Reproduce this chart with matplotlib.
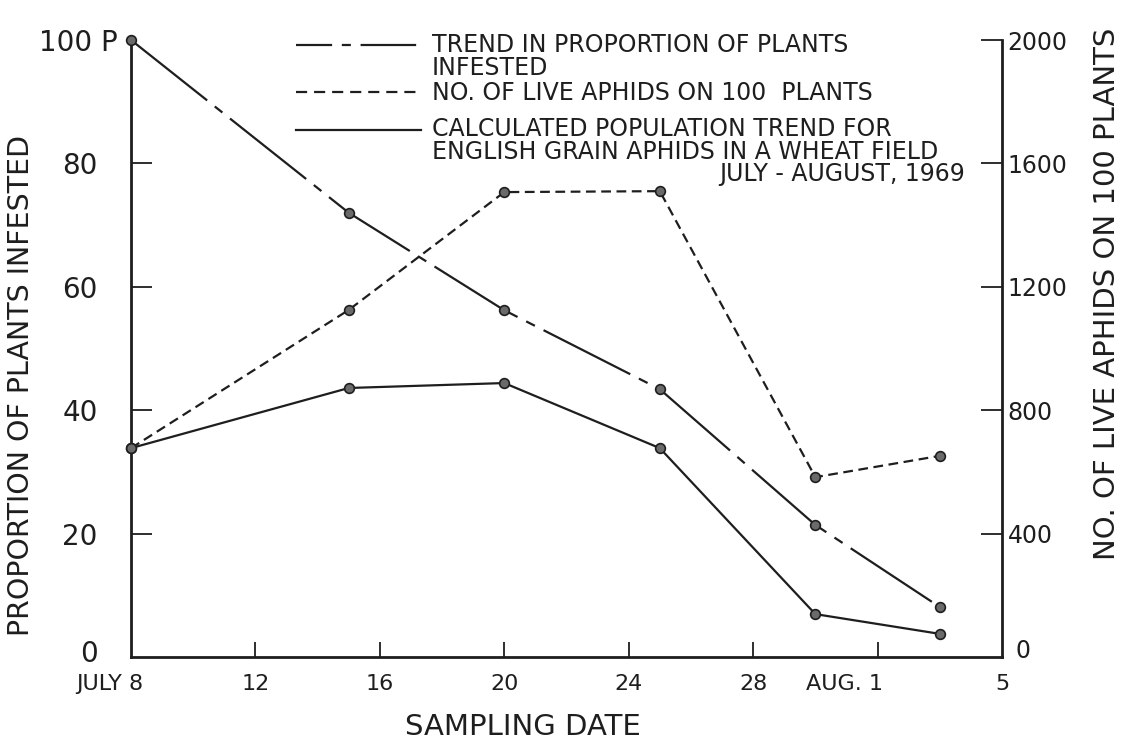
import matplotlib
matplotlib.use("Agg")
import matplotlib.pyplot as plt
from matplotlib.lines import Line2D
from matplotlib.transforms import ScaledTranslation

plt.rcParams['font.family'] = ['DejaVu Sans']
plt.rcParams['lines.scale_dashes'] = False

# ---- data (days after July 8) ----
sample_days = [0, 7, 12, 17, 22, 26]
prop_infested = [100, 72, 56.2, 43.4, 21.4, 8.1]          # left axis, %
live_aphids = [677, 1125, 1507, 1510, 583, 652]           # right axis, per 100 plants
calc_population = [677, 872, 888, 677, 139, 75]           # right axis

x_ticks = [0, 4, 8, 12, 16, 20, 24, 28]
x_ticklabels = ['JULY 8', '12', '16', '20', '24', '28', 'AUG. 1', '5']
left_ticks = [0, 20, 40, 60, 80, 100]
left_ticklabels = ['0', '20', '40', '60', '80', '100 P']
right_ticks = [0, 400, 800, 1200, 1600, 2000]
right_ticklabels = ['0', '400', '800', '1200', '1600', '2000']

legend_labels = ['TREND IN PROPORTION OF PLANTS\nINFESTED',
                 'NO. OF LIVE APHIDS ON 100  PLANTS',
                 'CALCULATED POPULATION TREND FOR\nENGLISH GRAIN APHIDS IN A WHEAT FIELD']
subtitle = 'JULY - AUGUST, 1969'

W, H = 1123, 747
fig = plt.figure(figsize=(W / 100, H / 100), dpi=100)
ax = fig.add_axes([131 / W, 1 - 657 / H, (1002 - 131) / W, (657 - 40) / H])
ax2 = ax.twinx()

ink = '#1e1e1e'
mface = '#6a6a6a'
lw = 1.6

prop_dash = (0, (70, 7, 7, 7))
aph_dash = (0, (7, 4))

ax.plot(sample_days, prop_infested, color=ink, lw=lw, linestyle=prop_dash,
        marker='o', ms=7, mfc=mface, mec=ink, mew=1.2, zorder=3, clip_on=False)
ax2.plot(sample_days, live_aphids, color=ink, lw=lw, linestyle=aph_dash,
         marker='o', ms=7, mfc=mface, mec=ink, mew=1.2, zorder=3, clip_on=False)
ax2.plot(sample_days, calc_population, color=ink, lw=lw, linestyle='-',
         marker='o', ms=7, mfc=mface, mec=ink, mew=1.2, zorder=3, clip_on=False)

ax.set_xlim(0, 28)
ax.set_ylim(0, 100)
ax2.set_ylim(0, 2000)

for a in (ax, ax2):
    a.spines['top'].set_visible(False)
    for s in ('left', 'right', 'bottom'):
        a.spines[s].set_linewidth(2.0)
        a.spines[s].set_color(ink)
ax.spines['right'].set_visible(False)
ax2.spines['left'].set_visible(False)
ax2.spines['bottom'].set_visible(False)

ax.set_xticks(x_ticks)
ax.set_xticklabels(x_ticklabels, fontsize=16)
ax.set_yticks(left_ticks)
ax.set_yticklabels(left_ticklabels)
ax2.set_yticks(right_ticks)
ax2.set_yticklabels(right_ticklabels)

ax.tick_params(axis='x', direction='in', length=11, width=1.3, color=ink,
               pad=12, labelcolor=ink)
ax.tick_params(axis='y', direction='in', length=15, width=1.3, color=ink,
               labelsize=20, pad=24, labelcolor=ink)
ax2.tick_params(axis='y', direction='in', length=15, width=1.3, color=ink,
                labelsize=17, pad=4, labelcolor=ink)

# hide ticks at axis ends like the original
xt = ax.xaxis.get_major_ticks()
xt[0].tick1line.set_visible(False)
xt[-1].tick1line.set_visible(False)
yt = ax.yaxis.get_major_ticks()
yt[0].tick1line.set_visible(False)
yt[-1].tick1line.set_visible(False)
rt = ax2.yaxis.get_major_ticks()
rt[0].tick2line.set_visible(False)

# label adjustments
xl = ax.get_xticklabels()
xl[0].set_horizontalalignment('right')
xl[0].set_transform(xl[0].get_transform() + ScaledTranslation(12 / 100, 0, fig.dpi_scale_trans))
xl[6].set_horizontalalignment('right')
xl[6].set_transform(xl[6].get_transform() + ScaledTranslation(5 / 100, 0, fig.dpi_scale_trans))
yl = ax.get_yticklabels()
yl[0].set_transform(yl[0].get_transform() + ScaledTranslation(0, 6 / 100, fig.dpi_scale_trans))
yl[-1].set_transform(yl[-1].get_transform() + ScaledTranslation(20 / 100, 0, fig.dpi_scale_trans))
rl = ax2.get_yticklabels()
rl[0].set_transform(rl[0].get_transform() + ScaledTranslation(8 / 100, 8 / 100, fig.dpi_scale_trans))

ax.set_ylabel('PROPORTION OF PLANTS INFESTED', fontsize=20.5, color=ink)
ax.yaxis.set_label_coords(-0.110, 0.44)
ax2.set_ylabel('NO. OF LIVE APHIDS ON 100 PLANTS', fontsize=21, color=ink)
ax2.yaxis.set_label_coords(1.104, 0.588)
ax.set_xlabel('SAMPLING DATE', fontsize=21, color=ink)
ax.xaxis.set_label_coords(0.45, -0.113)
ax.xaxis.label.set_verticalalignment('center')

# ---- manual legend ----
def fx(px):
    return px / W

def fy(py):
    return 1 - py / H

handles_y = [45, 92, 130]
text_y = [43, 90, 127]
line_step = 22.5
styles = [(0, (26, 7, 6.5, 7, 40)), (0, (8, 5)), '-']
for yy, ty, st, lab in zip(handles_y, text_y, styles, legend_labels):
    fig.add_artist(Line2D([fx(296), fx(421)], [fy(yy), fy(yy)], transform=fig.transFigure,
                          color=ink, lw=1.6, linestyle=st))
    for i, part in enumerate(lab.split('\n')):
        fig.text(fx(432), fy(ty + i * line_step), part, ha='left', va='center_baseline',
                 fontsize=17, color=ink)
fig.text(fx(965), fy(127 + 2 * line_step), subtitle, ha='right', va='center_baseline',
         fontsize=17, color=ink)

fig.savefig('out.png', dpi=100)
